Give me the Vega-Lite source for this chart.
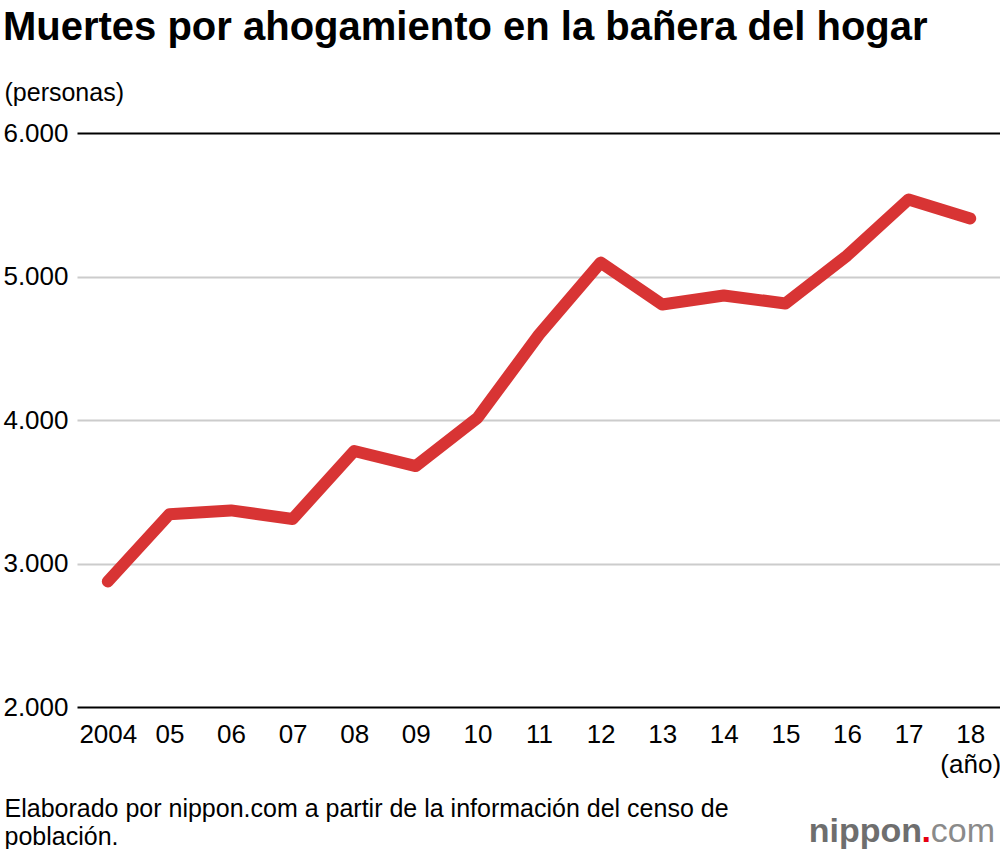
{
  "$schema": "https://vega.github.io/schema/vega-lite/v6.json",
  "width": 924,
  "height": 574,
  "padding": {"left": 2, "top": 8, "right": 0, "bottom": 0},
  "background": "white",
  "title": {
    "text": "Muertes por ahogamiento en la bañera del hogar",
    "anchor": "start",
    "frame": "bounds",
    "baseline": "top",
    "fontSize": 40,
    "fontWeight": "bold",
    "font": "Liberation Sans",
    "color": "#000000",
    "offset": 32
  },
  "config": {
    "view": {"stroke": null},
    "font": "Liberation Sans"
  },
  "layer": [
    {
      "data": {
        "values": [
          {"year": 2004, "deaths": 2875},
          {"year": 2005, "deaths": 3343},
          {"year": 2006, "deaths": 3370},
          {"year": 2007, "deaths": 3310},
          {"year": 2008, "deaths": 3784},
          {"year": 2009, "deaths": 3679},
          {"year": 2010, "deaths": 4014},
          {"year": 2011, "deaths": 4595},
          {"year": 2012, "deaths": 5097},
          {"year": 2013, "deaths": 4805},
          {"year": 2014, "deaths": 4868},
          {"year": 2015, "deaths": 4812},
          {"year": 2016, "deaths": 5145},
          {"year": 2017, "deaths": 5537},
          {"year": 2018, "deaths": 5404}
        ]
      },
      "mark": {"type": "line", "color": "#d83434", "strokeWidth": 12, "strokeCap": "round", "strokeJoin": "round"},
      "encoding": {
        "x": {
          "field": "year",
          "type": "quantitative",
          "scale": {"domain": [2003.5, 2018.5], "nice": false, "zero": false},
          "axis": {
            "values": [2004, 2005, 2006, 2007, 2008, 2009, 2010, 2011, 2012, 2013, 2014, 2015, 2016, 2017, 2018],
            "labelExpr": "datum.value === 2004 ? '2004' : (datum.value === 2018 ? ['18', '(año)'] : format(datum.value % 100, '02d'))",
            "grid": false,
            "domain": false,
            "ticks": false,
            "labelFontSize": 26,
            "labelColor": "#000000",
            "labelPadding": 14,
            "labelBaseline": "top",
            "labelLineHeight": 30,
            "labelFlush": false,
            "labelOverlap": false,
            "title": ["Elaborado por nippon.com a partir de la información del censo de", "población."],
            "titleFontSize": 25,
            "titleFontWeight": "normal",
            "titleColor": "#000000",
            "titleAlign": "left",
            "titleAnchor": "start",
            "titleBaseline": "top",
            "titleLineHeight": 28,
            "titleX": -73,
            "titleY": 89
          }
        },
        "y": {
          "field": "deaths",
          "type": "quantitative",
          "scale": {"domain": [2000, 6000], "nice": false, "zero": false},
          "axis": {
            "values": [2000, 3000, 4000, 5000, 6000],
            "labelExpr": "replace(format(datum.value, ','), ',', '.')",
            "grid": true,
            "gridColor": {"condition": {"test": "datum.value === 6000 || datum.value === 2000", "value": "#000000"}, "value": "#cccccc"},
            "gridWidth": 2,
            "domain": false,
            "ticks": false,
            "labelFontSize": 26,
            "labelColor": "#000000",
            "labelPadding": 9,
            "title": "(personas)",
            "titleFontSize": 25,
            "titleFontWeight": "normal",
            "titleColor": "#000000",
            "titleAngle": 0,
            "titleAlign": "left",
            "titleBaseline": "middle",
            "titleX": -73,
            "titleY": -41
          }
        }
      }
    },
    {
      "data": {
        "values": [
          {"part": "com", "xpos": 2018.5, "ypos": 1060}
        ]
      },
      "mark": {"type": "text", "align": "right", "baseline": "alphabetic", "fontSize": 34, "dx": -6, "color": "#8a8a8a"},
      "encoding": {
        "x": {"field": "xpos", "type": "quantitative"},
        "y": {"field": "ypos", "type": "quantitative"},
        "text": {"field": "part"}
      }
    },
    {
      "data": {
        "values": [
          {"part": ".", "xpos": 2018.5, "ypos": 1060}
        ]
      },
      "mark": {"type": "text", "align": "right", "baseline": "alphabetic", "fontSize": 34, "fontWeight": "bold", "dx": -70, "color": "#e60012"},
      "encoding": {
        "x": {"field": "xpos", "type": "quantitative"},
        "y": {"field": "ypos", "type": "quantitative"},
        "text": {"field": "part"}
      }
    },
    {
      "data": {
        "values": [
          {"part": "nippon", "xpos": 2018.5, "ypos": 1060}
        ]
      },
      "mark": {"type": "text", "align": "right", "baseline": "alphabetic", "fontSize": 34, "fontWeight": "bold", "dx": -79, "color": "#6e6e6e"},
      "encoding": {
        "x": {"field": "xpos", "type": "quantitative"},
        "y": {"field": "ypos", "type": "quantitative"},
        "text": {"field": "part"}
      }
    }
  ]
}
